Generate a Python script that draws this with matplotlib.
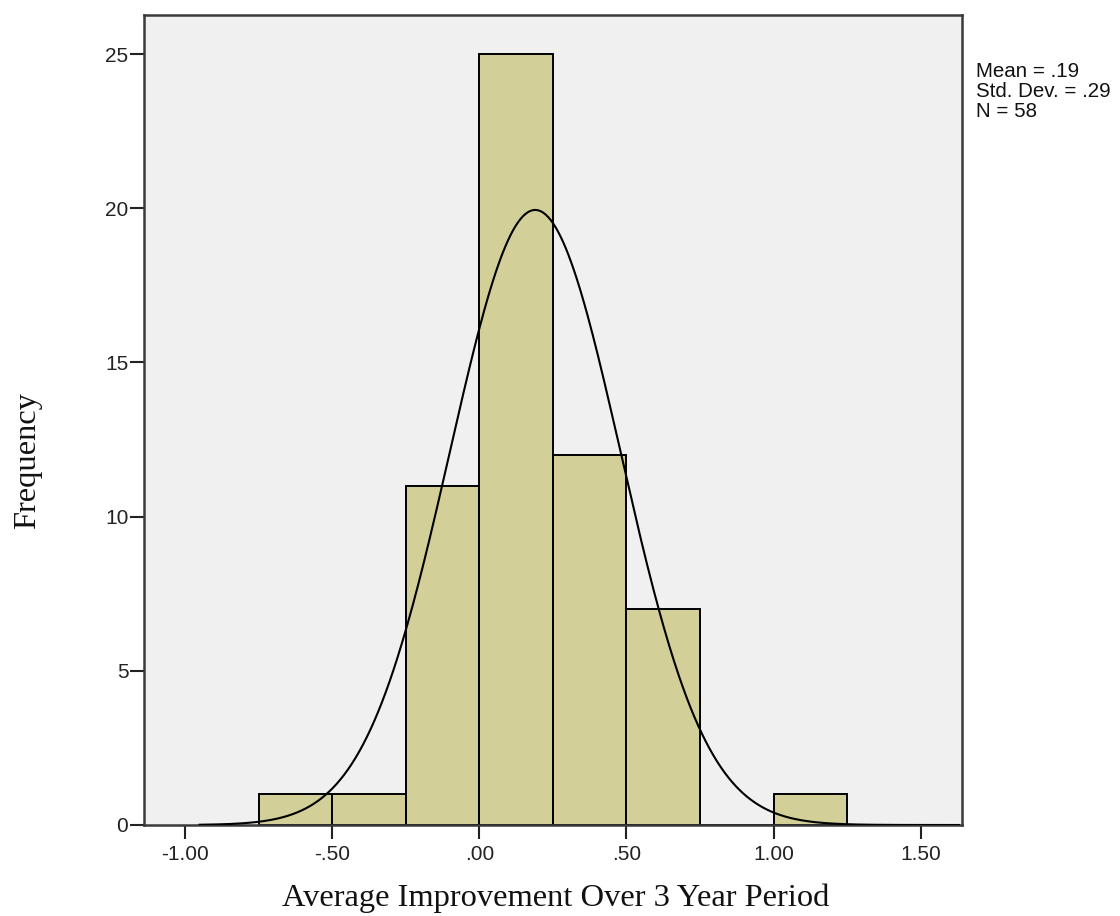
import numpy as np
import matplotlib
matplotlib.use("Agg")
import matplotlib.pyplot as plt

bin_edges = [-0.75, -0.50, -0.25, 0.00, 0.25, 0.50, 0.75, 1.00, 1.25]
counts = [1, 1, 11, 25, 12, 7, 0, 1]
mean, sd, n = 0.19, 0.29, 58
xticks = [-1.0, -0.5, 0.0, 0.5, 1.0, 1.5]
xticklabels = ["-1.00", "-.50", ".00", ".50", "1.00", "1.50"]
yticks = [0, 5, 10, 15, 20, 25]
stats_lines = ["Mean = .19", "Std. Dev. = .29", "N = 58"]

fig = plt.figure(figsize=(11.2, 9.16), dpi=100)
ax = fig.add_axes([144.3/1120, 1-825/916, (962.3-144.3)/1120, (825-15)/916])
ax.set_facecolor("#F0F0F0")

lefts = bin_edges[:-1]
widths = np.diff(bin_edges)
ax.bar(lefts, counts, width=widths, align="edge", color="#D3CF98",
       edgecolor="black", linewidth=1.4, zorder=2)

xlim = (-1.138, 1.641)
xs = np.linspace(-0.95, 1.63, 600)
bw = 0.25
ys = n * bw / (sd * np.sqrt(2 * np.pi)) * np.exp(-0.5 * ((xs - mean) / sd) ** 2)
ax.plot(xs, ys, color="black", linewidth=1.5, zorder=3)

ax.set_xlim(*xlim)
ax.set_ylim(0, 26.27)
ax.set_xticks(xticks)
ax.set_xticklabels(xticklabels)
ax.set_yticks(yticks)
ax.tick_params(axis="both", direction="out", length=10, width=1.5, color="#222222",
               labelsize=15)
ax.tick_params(axis="y", pad=1.5)
ax.tick_params(axis="x", pad=4.5)
for lab in ax.get_xticklabels() + ax.get_yticklabels():
    lab.set_family(["Liberation Sans", "DejaVu Sans"])
    lab.set_color("#222222")
for s in ax.spines.values():
    s.set_linewidth(1.8)
    s.set_color("#3a3a3a")

ax.set_xlabel("Average Improvement Over 3 Year Period", family="Liberation Serif",
              fontsize=23.4, color="#111111")
ax.xaxis.set_label_coords((556-144.3)/(962.3-144.3), -(898-825)/(825-15))
ax.xaxis.label.set_va("center")
ax.set_ylabel("Frequency", family="Liberation Serif", fontsize=23.4, color="#111111")
ax.yaxis.set_label_coords(-(144.3-28)/(962.3-144.3), (825-461)/(825-15))
ax.yaxis.label.set_va("center")

for i, line in enumerate(stats_lines):
    fig.text(976/1120, 1-(77 + i*20)/916, line, family="Liberation Sans", fontsize=14.8,
             va="baseline", ha="left", color="#111111")

fig.savefig("out.png", dpi=100)
